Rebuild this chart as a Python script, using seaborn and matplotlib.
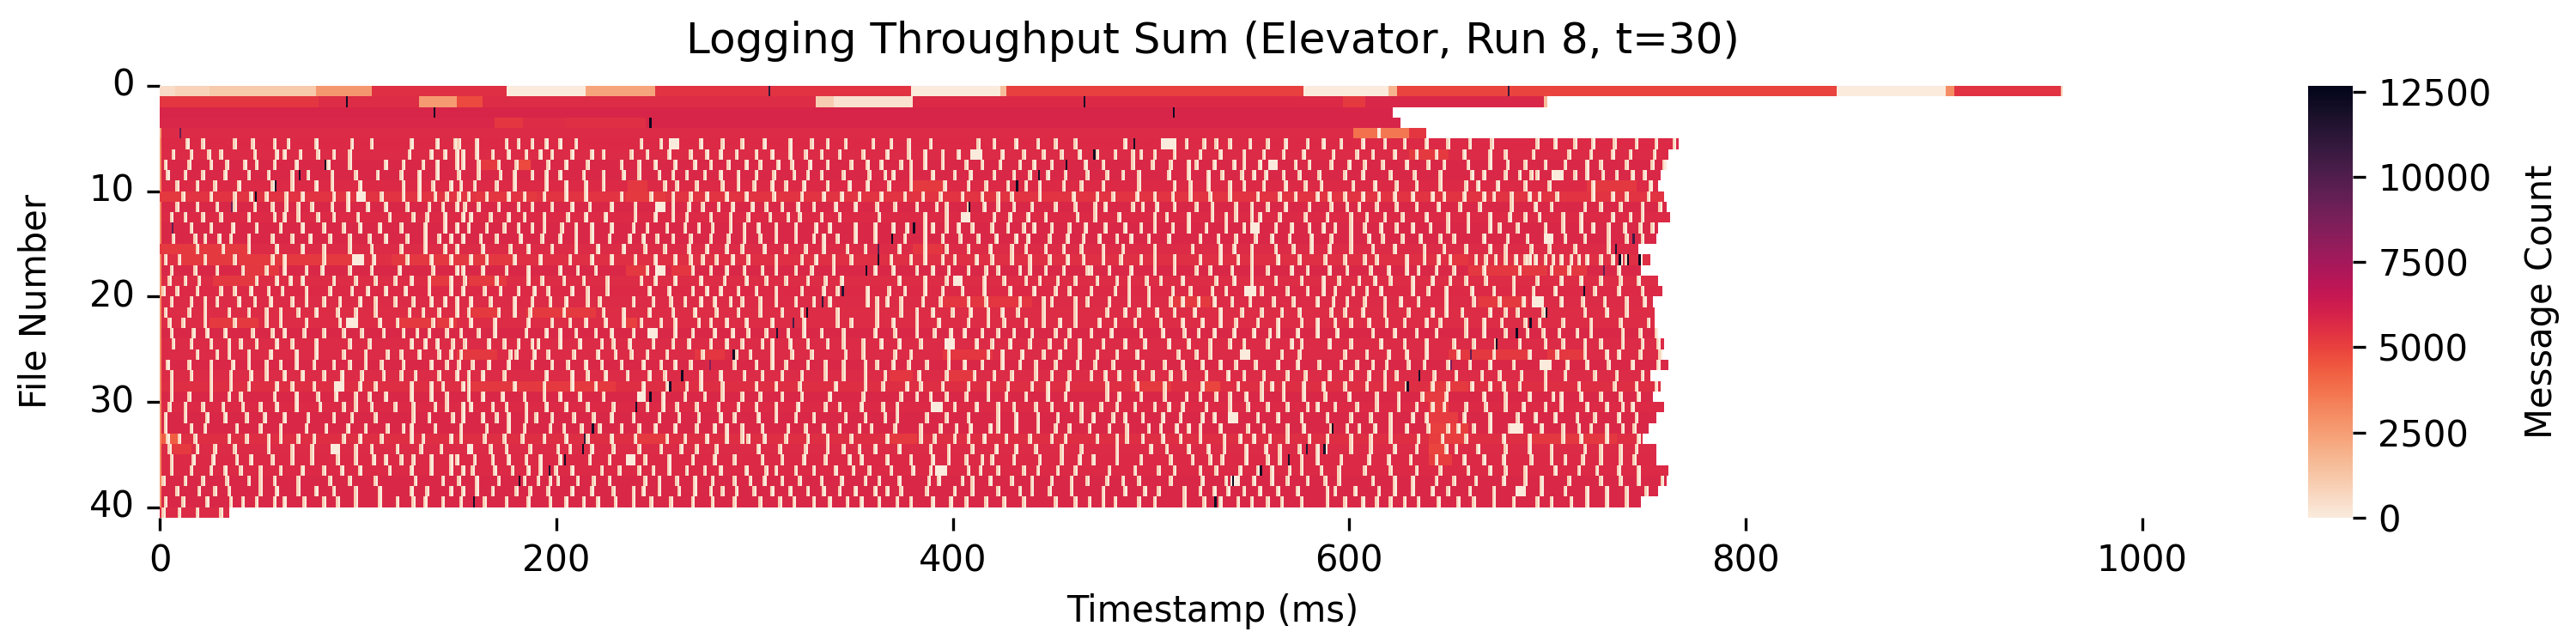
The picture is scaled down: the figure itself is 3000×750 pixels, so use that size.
import numpy as np
import seaborn as sns
import matplotlib
matplotlib.use('Agg')
import matplotlib.pyplot as plt

N_FILES = 41
N_BINS = 1062

# last timestamp with data, per file
row_ends = [960, 700, 622, 626, 639, 766, 761, 760, 757, 756, 759, 760, 762, 756, 755,
            746, 752, 747, 756, 758, 753, 754, 754, 756, 759, 758, 761, 752, 757, 753,
            759, 755, 751, 748, 755, 755, 761, 760, 756, 747, 35]

# usual message count per file while it is busy
row_base = [5400, 5600, 5850, 5800, 5650, 5700, 5650, 5750, 5750, 5700, 5400, 5750, 5700, 5750, 5750,
            5650, 5500, 5750, 5600, 5700, 5650, 5600, 5600, 5750, 5650, 5650, 5750, 5650, 5550, 5750,
            5700, 5750, 5750, 5550, 5650, 5700, 5700, 5750, 5750, 5750, 5650]

# the first five files are long runs, (file, start, end, count)
long_runs = [
    (0, 0, 8, 500), (0, 8, 25, 800), (0, 25, 79, 1100), (0, 79, 107, 2700), (0, 107, 175, 5500),
    (0, 175, 215, 0), (0, 215, 250, 2300), (0, 250, 379, 5400), (0, 379, 424, 0), (0, 424, 427, 1500),
    (0, 427, 577, 5000), (0, 577, 620, 0), (0, 620, 624, 1800), (0, 624, 846, 4900), (0, 846, 901, 0),
    (0, 901, 905, 3000), (0, 905, 959, 5400), (0, 959, 960, 1000),
    (1, 0, 80, 5300), (1, 80, 131, 5600), (1, 131, 150, 2600), (1, 150, 163, 4800), (1, 163, 331, 5600),
    (1, 331, 340, 1000), (1, 340, 380, 300), (1, 380, 597, 5700), (1, 597, 608, 5200), (1, 608, 698, 5800),
    (1, 698, 700, 1500),
    (2, 0, 622, 5850),
    (3, 0, 169, 5800), (3, 169, 183, 5300), (3, 183, 205, 5600), (3, 205, 245, 5500), (3, 245, 626, 5850),
    (4, 0, 1, 2500), (4, 1, 602, 5650), (4, 602, 614, 3800), (4, 614, 616, 0), (4, 616, 630, 3600),
    (4, 630, 639, 5300),
]

# idle timestamps of the worker files, read per row
gaps_05 = [13,21,37,46,57,64,78,96,106,126,139,148,150,159,174,180,187,194,201,209,242,252,272,283,293,304,317,328,336,345,359,368,377,388,412,420,431,442,451,461,486,517,526,532,539,549,558,567,578,586,595,606,617,627,638,649,660,671,694,703,713,722,733,744,754,763]
gaps_06 = [6,15,24,30,47,58,62,70,79,87,95,125,136,143,149,152,159,167,175,184,191,197,207,217,223,237,245,256,267,275,282,290,300,308,317,325,333,342,354,366,377,385,394,402,424,435,445,454,463,472,481,490,494,501,511,524,534,546,556,566,576,591,603,611,622,633,643,657,670,678,692,710,721,732,741,753]
gaps_07 = [2,14,25,33,42,48,57,68,84,95,113,122,132,139,149,152,160,170,179,195,204,215,232,241,249,259,269,277,286,295,302,311,318,327,336,348,356,363,373,378,385,394,406,414,423,433,440,449,466,475,490,500,509,518,522,531,541,546,554,572,579,590,599,607,616,628,639,647,659,670,679,688,698,708,719,726,739,752,758]
gaps_08 = [3,12,21,32,44,54,66,74,86,98,109,121,130,139,150,160,171,178,187,194,201,213,223,233,241,251,258,265,274,282,291,300,309,319,326,333,344,357,365,369,378,389,400,408,420,430,438,447,456,467,477,485,493,508,518,528,535,545,551,557,566,574,584,597,606,620,632,645,661,667,678,685,691,694,713,719,727,734,742,748,756]
gaps_09 = [8,18,27,39,56,66,78,86,100,122,130,137,146,151,158,169,178,194,204,214,223,254,260,270,283,291,299,308,315,324,336,347,356,367,378,395,407,416,427,436,443,455,464,475,493,511,519,528,539,546,556,567,577,585,601,612,623,633,645,658,664,674,688,700,722,751,755]
gaps_10 = [11,25,37,45,53,63,71,87,94,111,122,130,138,144,150,155,164,175,183,193,204,214,232,247,258,267,275,285,295,309,323,334,343,352,363,375,384,393,404,414,422,429,443,460,472,480,492,501,510,519,529,539,553,564,572,583,589,597,606,614,622,631,641,647,657,667,672,681,690,695,704,722,732,739,750,758]
gaps_11 = [8,18,28,37,47,56,63,69,76,86,94,104,113,124,135,142,149,153,160,170,180,187,197,207,216,227,239,258,266,273,281,288,298,305,313,321,329,340,350,361,370,381,391,396,407,415,422,430,439,451,461,471,476,490,495,502,511,522,530,542,550,558,567,579,590,598,604,613,623,633,644,655,665,681,693,701,718,726,736,747,756]
gaps_12 = [5,12,21,30,44,57,62,69,79,87,99,115,127,134,143,152,156,166,175,183,193,205,214,224,239,249,258,265,277,287,296,307,316,322,333,342,362,385,396,420,428,437,446,462,471,483,501,507,518,530,537,542,550,554,564,577,588,600,608,617,626,638,649,659,670,680,688,695,707,716,732,741,747,761]
gaps_13 = [15,25,36,48,60,71,82,92,100,110,121,133,143,149,155,164,173,180,187,193,202,209,217,227,238,245,255,264,271,278,287,294,301,310,320,330,337,350,360,369,376,385,389,396,402,409,419,427,435,440,449,458,466,476,486,494,501,510,518,527,537,546,562,570,579,586,592,600,607,615,623,631,640,649,659,670,675,684,698,707,716,722,730,738,746,752]
gaps_14 = [6,17,22,29,35,44,56,66,75,85,95,105,113,124,133,140,146,152,161,169,181,192,201,209,217,226,236,243,250,258,267,277,286,294,302,310,320,329,334,341,350,360,375,385,394,403,412,421,431,437,448,457,465,473,482,489,498,508,524,533,542,552,560,569,580,590,600,609,616,626,635,645,652,667,679,689,708,718,730,739,747]
gaps_15 = [18,31,44,58,71,82,95,106,121,133,143,149,162,176,185,197,209,220,233,244,254,266,275,285,293,304,315,325,334,346,355,372,385,396,407,418,429,436,446,455,464,475,485,501,520,534,541,550,562,571,580,589,600,611,622,637,647,658,670,678,691,700,713,730,746]
gaps_16 = [2,9,22,37,56,62,82,107,124,136,146,156,164,178,191,206,217,227,239,249,259,267,273,280,288,296,310,323,330,339,348,368,378,385,394,400,411,419,429,438,448,457,465,475,484,494,501,511,524,534,543,550,563,574,587,597,607,613,628,637,644,650,663,668,673,678,683,688,690,693,698,702,706,711,715,719,726,732,736,739,746,751]
gaps_17 = [5,17,28,41,53,62,73,81,95,106,120,137,149,152,162,174,185,201,210,219,245,268,277,285,294,303,310,320,328,339,360,369,381,389,397,407,416,422,433,438,446,455,467,469,478,489,501,511,522,529,540,550,558,570,578,589,598,610,619,628,634,643,652,667,685,701,710,735,747]
gaps_18 = [4,12,19,48,58,65,71,87,98,108,118,126,135,146,153,169,185,192,203,213,225,242,249,259,272,284,295,305,315,326,335,343,372,385,396,415,425,436,443,452,461,472,482,488,497,504,515,532,541,550,562,575,586,594,604,612,620,631,641,650,658,668,682,694,706,716,726,736,745,755]
gaps_19 = [1,8,18,30,37,45,54,61,73,85,96,104,113,123,135,146,152,163,171,180,188,195,207,215,225,246,256,268,275,282,291,300,310,323,334,341,356,367,375,385,394,404,415,428,440,451,458,469,481,488,498,510,519,530,537,555,568,578,586,592,601,608,615,631,639,648,661,672,682,692,703,723,735,747,757]
gaps_20 = [5,15,22,28,39,47,55,66,73,82,90,100,108,118,127,136,143,149,156,166,178,187,196,204,215,221,238,248,257,264,272,279,287,293,302,310,320,329,337,356,361,366,373,384,393,407,416,433,445,449,461,467,478,488,498,509,515,523,531,540,549,561,571,583,591,598,607,617,625,634,648,662,675,687,706,717,728,739,748,752]
gaps_21 = [2,14,22,34,44,53,60,69,78,89,98,108,125,132,140,149,155,170,178,186,203,223,233,246,258,269,280,291,302,313,323,341,361,373,381,389,399,408,417,424,432,445,461,477,486,493,502,511,521,534,545,555,565,574,590,597,606,617,629,641,648,656,670,678,684,697,718,729,739,753]
gaps_22 = [4,11,22,37,53,60,73,90,110,119,137,146,156,168,185,197,206,214,224,233,242,252,259,271,277,285,295,308,324,341,348,361,369,381,392,407,417,425,436,445,453,461,473,481,491,504,515,525,534,542,553,563,575,583,592,600,609,618,627,638,645,658,667,676,688,695,707,721,736,750]
gaps_23 = [5,16,23,32,46,56,62,72,82,92,101,112,122,129,135,144,151,160,168,184,194,201,209,219,227,238,259,268,279,288,296,305,316,324,333,344,360,370,381,390,398,405,414,422,430,439,451,458,469,479,494,505,516,523,531,541,551,559,563,573,583,593,611,622,633,643,658,667,678,689,697,705,714,721,737,746,754]
gaps_24 = [6,15,25,34,40,48,58,66,78,95,105,126,133,139,147,153,165,173,180,187,190,201,211,222,228,236,248,258,266,277,285,293,303,308,317,326,336,344,354,363,372,383,411,419,428,438,448,456,463,475,486,496,508,518,529,539,546,558,570,575,589,600,615,627,638,652,662,673,685,698,707,718,726,737,747,755]
gaps_25 = [18,28,34,44,55,68,78,92,103,114,121,130,140,146,151,176,179,188,195,208,220,229,237,245,255,273,290,297,308,318,328,345,354,370,378,397,417,424,434,445,453,463,472,482,492,513,522,529,565,574,597,608,619,628,638,654,672,690,704,718,729,735,746,756]
gaps_26 = [3,14,25,36,44,53,60,68,77,87,95,103,111,122,136,144,150,157,165,175,187,197,205,214,222,232,243,252,259,267,289,300,308,315,326,335,344,355,361,369,377,386,397,405,414,424,433,441,451,462,471,480,495,506,515,525,534,542,552,563,573,584,595,603,611,618,629,637,649,660,670,682,709,719,730,742,755]
gaps_27 = [5,15,25,35,45,53,62,71,82,91,101,112,121,128,140,149,155,162,173,194,207,215,224,235,246,254,272,282,294,303,313,323,335,344,355,365,382,396,410,420,429,441,449,458,469,476,483,491,500,509,516,527,538,546,556,568,577,589,600,609,617,623,642,653,666,675,686,698,708,723,734,747]
gaps_28 = [5,25,35,44,58,66,77,100,108,126,136,142,152,155,178,193,207,219,243,255,265,272,283,300,310,322,340,355,364,376,383,394,407,417,427,439,447,457,477,492,506,525,543,555,560,566,576,586,597,608,617,628,641,649,661,670,677,685,698,715,733,744,754]
gaps_29 = [5,14,25,34,40,57,68,79,88,98,105,113,126,136,144,155,162,172,183,193,201,211,223,253,264,274,283,293,302,313,323,337,354,373,381,388,396,406,417,426,436,447,456,477,483,494,506,517,524,532,539,547,555,566,576,587,599,613,624,636,648,667,678,690,702,706,716,726,736,745]
gaps_30 = [4,12,21,31,41,50,58,68,80,92,98,106,118,127,138,144,152,156,167,174,184,194,204,215,228,245,253,260,270,281,291,300,310,321,335,342,353,364,371,400,411,422,430,441,449,459,464,474,482,491,501,508,515,527,539,548,558,568,578,583,592,603,613,624,633,641,647,658,668,678,687,698,706,719,729,737,742,758]
gaps_31 = [2,12,23,32,43,52,62,74,87,96,108,127,135,147,152,162,169,175,184,189,197,208,218,227,238,251,261,271,282,289,301,310,320,329,345,355,365,371,386,396,407,422,431,442,452,464,470,480,486,495,505,514,525,531,553,563,575,588,600,610,620,631,638,657,670,684,693,703,714,723,735,744,754]
gaps_32 = [2,15,22,38,50,60,73,83,94,103,114,122,126,138,151,164,175,183,196,203,212,221,232,241,249,259,270,279,285,293,303,316,325,334,342,352,358,370,383,393,401,408,418,422,431,442,451,458,468,478,487,498,504,512,518,524,534,548,556,568,576,590,598,604,612,620,628,639,649,654,662,670,680,696,707,715,721,729,737,743,750]
gaps_33 = [3,9,17,34,43,54,60,69,77,92,100,111,126,132,146,151,163,173,182,193,204,215,227,239,255,264,275,285,293,296,304,315,326,336,348,366,383,390,400,407,415,426,438,449,456,472,482,487,495,505,514,524,536,544,551,559,568,579,588,600,610,620,634,646,658,677,690,707,716,729,745]
gaps_34 = [4,18,27,37,54,66,76,98,106,119,131,141,166,174,186,200,206,217,228,241,252,262,270,280,301,312,325,336,344,352,360,372,388,397,409,421,431,441,454,464,482,499,507,518,528,536,547,557,564,574,583,587,600,610,622,633,648,653,664,678,690,701,718,726,736,744,754]
gaps_35 = [5,16,26,38,45,56,66,76,89,98,107,113,121,127,136,146,149,158,167,175,184,191,201,216,226,244,256,268,279,289,303,313,324,335,347,353,366,378,389,397,406,414,419,430,443,454,463,470,482,494,509,520,529,535,547,558,564,575,583,595,609,619,630,643,657,667,677,691,701,708,717,726,736,743,754]
gaps_36 = [5,15,25,32,40,50,60,71,82,91,100,115,126,136,146,152,157,168,177,185,191,199,207,222,231,241,248,256,265,274,282,295,305,310,320,329,340,349,357,368,379,388,407,413,422,435,442,452,461,478,491,503,511,524,532,544,553,560,569,575,585,594,607,620,633,645,659,670,678,688,703,715,724,735,745]
gaps_37 = [1,12,21,33,44,50,57,69,85,95,108,128,142,150,159,170,183,190,196,200,210,218,226,244,251,260,269,278,289,297,304,313,322,333,343,355,362,372,387,392,404,409,418,429,439,449,459,467,477,485,493,509,525,537,551,560,568,578,587,594,611,622,631,643,652,663,677,688,696,710,726,736,745,757]
gaps_38 = [8,19,27,34,50,58,69,78,87,98,110,126,134,146,152,159,167,179,186,195,207,217,228,238,243,251,261,269,277,283,290,299,308,317,326,334,342,350,360,366,373,386,400,409,422,433,439,448,459,475,486,496,503,516,524,531,538,546,554,563,573,588,592,602,614,622,631,641,649,660,672,696,708,719,729,739,749,755]
gaps_39 = [2,11,23,35,41,48,57,62,72,82,89,98,110,119,127,133,142,151,163,174,185,196,204,213,220,229,238,247,257,268,278,289,302,312,319,329,337,346,353,362,371,378,389,398,406,416,425,435,451,461,468,475,481,493,501,516,526,534,543,550,558,565,575,588,597,606,613,620,627,634,644,654,662,672,682,694,701,711,719,729,739]
gaps_40 = [1,9,18,30]

row_gaps = [gaps_05, gaps_06, gaps_07, gaps_08, gaps_09, gaps_10, gaps_11, gaps_12, gaps_13, gaps_14,
            gaps_15, gaps_16, gaps_17, gaps_18, gaps_19, gaps_20, gaps_21, gaps_22, gaps_23, gaps_24,
            gaps_25, gaps_26, gaps_27, gaps_28, gaps_29, gaps_30, gaps_31, gaps_32, gaps_33, gaps_34,
            gaps_35, gaps_36, gaps_37, gaps_38, gaps_39, gaps_40]

# longer stalls (file, start, length)
wide_gaps = [(10, 99, 5), (16, 97, 6), (22, 94, 6), (28, 88, 5), (34, 86, 5), (34, 155, 3),
             (5, 257, 5), (11, 250, 5), (17, 250, 5), (23, 246, 5), (35, 235, 5), (29, 241, 4),
             (6, 409, 6), (12, 404, 5), (18, 400, 5), (24, 396, 5), (30, 389, 6), (36, 391, 6),
             (5, 505, 8), (7, 559, 5), (13, 550, 5), (19, 547, 6), (25, 545, 5), (31, 539, 5), (37, 540, 5),
             (8, 702, 6), (14, 698, 5), (20, 692, 6), (26, 696, 6), (32, 682, 6), (38, 684, 5)]

# stretches with lower throughput (file, start, end, count)
warm_runs = [(10, 0, 10, 5200), (15, 0, 18, 5200), (15, 20, 44, 5200), (16, 10, 37, 5200), (16, 40, 97, 5200),
             (17, 42, 60, 5250), (18, 27, 48, 5250), (22, 25, 50, 5200), (33, 1, 9, 4300), (34, 6, 16, 5200),
             (7, 160, 170, 5200), (7, 180, 187, 4800), (10, 160, 175, 5300), (10, 185, 190, 5200),
             (16, 117, 180, 5250), (18, 135, 146, 5200), (18, 156, 175, 5200), (21, 155, 170, 5200),
             (21, 185, 220, 5200), (22, 120, 137, 5200), (22, 140, 150, 5200), (28, 155, 190, 5250),
             (28, 190, 230, 5200), (25, 150, 170, 5250), (9, 236, 246, 5250), (10, 235, 255, 5200),
             (17, 235, 245, 5250), (17, 258, 268, 5300), (22, 235, 241, 5000), (25, 270, 285, 5300),
             (33, 240, 255, 5200), (9, 380, 395, 5200), (20, 395, 440, 5300), (25, 395, 420, 5300),
             (33, 368, 382, 5200), (27, 368, 380, 5300), (27, 396, 410, 5250), (15, 380, 395, 5300),
             (28, 490, 510, 5200), (28, 525, 535, 4900), (20, 510, 530, 5200), (6, 630, 650, 5200),
             (28, 640, 660, 5200), (33, 640, 660, 5100), (33, 690, 735, 5250), (20, 665, 690, 5200),
             (29, 638, 650, 5150), (30, 640, 650, 5100), (31, 640, 655, 5150), (32, 640, 660, 5000),
             (34, 640, 650, 4900), (35, 640, 652, 5100), (17, 660, 700, 5250), (17, 702, 720, 5250),
             (25, 650, 690, 5250), (25, 700, 720, 5250), (16, 650, 660, 5300), (9, 720, 745, 5250)]

# single bursts (file, timestamp, count)
spikes = [(0, 307, 11000), (0, 680, 11000), (1, 94, 12000), (1, 466, 12000), (2, 138, 12200), (2, 511, 12300),
          (3, 247, 12300), (4, 10, 9300), (8, 70, 11800), (7, 83, 12200), (9, 58, 11800), (10, 48, 12300),
          (11, 36, 9000), (13, 6, 9500), (32, 218, 12000), (33, 214, 11000), (34, 213, 12200), (35, 204, 12200),
          (36, 196, 11500), (37, 181, 12200), (39, 158, 12000), (19, 344, 11500), (20, 334, 11000),
          (21, 326, 12300), (22, 319, 10300), (23, 311, 11800), (25, 289, 12000), (26, 277, 8500),
          (27, 263, 12200), (28, 257, 12000), (29, 247, 12200), (30, 240, 12000), (7, 457, 12000),
          (8, 443, 12000), (9, 432, 12300), (11, 408, 12000), (13, 380, 12200), (14, 369, 12200),
          (15, 362, 9800), (16, 362, 12000), (17, 356, 12200), (5, 491, 12000), (6, 471, 12200),
          (34, 578, 11500), (35, 569, 12000), (36, 555, 12000), (37, 541, 12300), (39, 532, 12200),
          (14, 743, 10500), (15, 734, 11500), (16, 736, 12300), (16, 740, 12300), (16, 746, 12300),
          (17, 728, 9500), (19, 718, 12200), (21, 699, 12200), (22, 691, 12000), (23, 684, 12300),
          (24, 674, 12000), (25, 661, 9500), (26, 651, 8800), (27, 635, 12000), (28, 629, 12000),
          (32, 591, 12300), (34, 587, 12000)]

EDGE_COUNT = 900
FIRST_BIN_COUNT = 3000

x_ticks = [0, 200, 400, 600, 800, 1000]
y_ticks = [0, 10, 20, 30, 40]
cbar_ticks = [0, 2500, 5000, 7500, 10000, 12500]

# Build the file/timestamp matrix, NaN where a file has finished
counts = np.full((N_FILES, N_BINS), np.nan)
for row, end in enumerate(row_ends):
    counts[row, :end] = row_base[row]
    if 4 < row < 40:
        counts[row, 0] = FIRST_BIN_COUNT

for row, start, end, value in long_runs + warm_runs:
    counts[row, start:end] = value

for i, gaps in enumerate(row_gaps):
    row = i + 5
    for start in gaps:
        if start + 1 < row_ends[row]:
            counts[row, start] = EDGE_COUNT
            counts[row, start + 1] = 0

for row, start, length in wide_gaps:
    counts[row, start:start + length] = 0

for row, ts, value in spikes:
    counts[row, ts] = value

sns.set_style('white')
plt.rcParams['font.family'] = 'DejaVu Sans'
plt.rcParams['text.color'] = 'black'
plt.rcParams['axes.labelcolor'] = 'black'
plt.rcParams['xtick.color'] = 'black'
plt.rcParams['ytick.color'] = 'black'

fig = plt.figure(figsize=(10, 2.5), dpi=300)
ax = fig.add_axes([186 / 3000, 147 / 750, (2638 - 186) / 3000, 503 / 750])
cax = fig.add_axes([2688 / 3000, 147 / 750, 52 / 3000, 503 / 750])

sns.heatmap(counts, ax=ax, cbar_ax=cax, cmap='rocket_r', vmin=0, vmax=12670,
            cbar_kws={'label': 'Message Count', 'ticks': cbar_ticks})

ax.set_xticks(x_ticks)
ax.set_xticklabels(x_ticks, rotation=0)
ax.set_yticks(y_ticks)
ax.set_yticklabels(y_ticks, rotation=0)
ax.tick_params(left=True, bottom=True, length=3.5, width=0.8, labelsize=10)
ax.set_xlabel('Timestamp (ms)', fontsize=10)
ax.set_ylabel('File Number', fontsize=10, labelpad=10)
ax.set_title('Logging Throughput Sum (Elevator, Run 8, t=30)', fontsize=12, pad=9)

cax.tick_params(right=True, length=3.5, width=0.8, labelsize=10)
cax.yaxis.label.set_size(10)
cax.yaxis.labelpad = 9

plt.savefig('out.png', dpi=300)
plt.close()
